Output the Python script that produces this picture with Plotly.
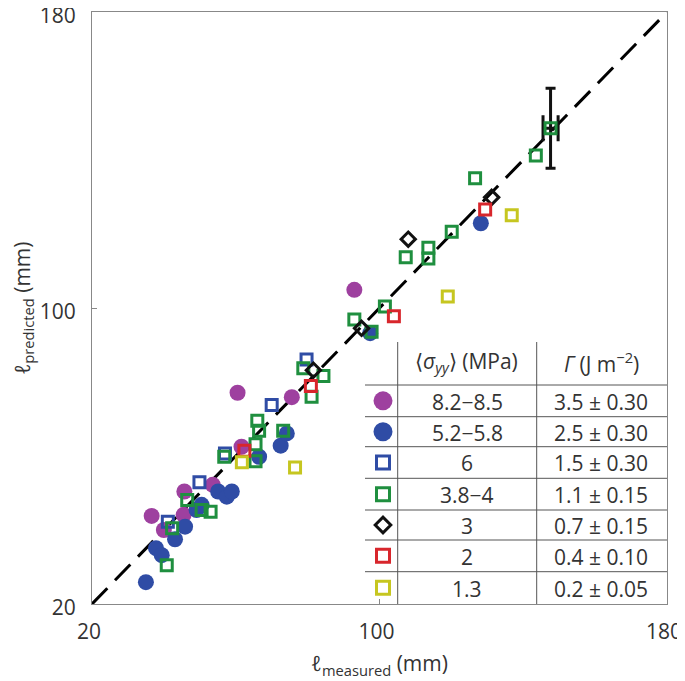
import plotly.graph_objects as go

# ---------------- data ----------------
magenta_x = [36.6, 45.5, 40.0, 45.7, 53.6, 60.5, 61.6, 75.6, 93.0]
magenta_y = [43.8, 44.1, 40.0, 50.4, 52.2, 77.1, 62.5, 75.9, 104.9]

blue_c_x = [35.0, 37.8, 39.4, 43.1, 45.9, 49.1, 50.5, 55.1, 57.5, 58.9, 66.5, 72.5, 74.2, 97.4, 128.2]
blue_c_y = [25.9, 35.1, 33.2, 37.5, 40.9, 45.4, 46.8, 50.4, 49.0, 50.4, 59.8, 62.8, 66.1, 93.2, 122.9]

blue_s_x = [41.1, 49.9, 57.0, 70.0, 79.7]
blue_s_y = [42.2, 52.9, 60.7, 73.8, 86.1]

green_x = [40.8, 42.3, 46.5, 50.5, 53.0, 56.8, 65.5, 65.5, 66.5, 66.0, 73.2, 78.8, 81.1, 84.4,
           93.0, 97.8, 101.5, 107.3, 113.6, 113.6, 120.1, 126.6, 143.5]
green_y = [30.5, 40.5, 48.1, 45.4, 44.9, 59.8, 58.6, 63.2, 66.8, 69.5, 66.8, 83.7, 76.0, 81.6,
           96.9, 93.6, 100.4, 113.7, 116.3, 113.4, 120.6, 135.1, 141.2]

errbar_x = [147.6]
errbar_y = [148.6]
errbar_dx = [2.1]
errbar_dy = [10.8]

black_x = [81.6, 95.0, 108.0, 131.2]
black_y = [83.2, 94.5, 118.6, 129.9]

red_x = [62.4, 80.9, 104.0, 129.4]
red_y = [61.4, 78.9, 97.8, 126.6]

yellow_x = [61.7, 76.5, 119.0, 136.8]
yellow_y = [58.3, 56.9, 103.1, 125.1]

line_x = [20, 180]
line_y = [20, 180]

tick_vals = [20, 100, 180]
tick_text = ["20", "100", "180"]

table_col1 = ["8.2−8.5", "5.2−5.8", "6", "3.8−4", "3", "2", "1.3"]
table_col2 = ["3.5 ± 0.30", "2.5 ± 0.30", "1.5 ± 0.30", "1.1 ± 0.15", "0.7 ± 0.15", "0.4 ± 0.10", "0.2 ± 0.05"]
header_col1 = "⟨<i>σ</i><sub><i>yy</i></sub>⟩ (MPa)"
header_col2 = "<i>Γ</i> (J m<sup>−2</sup>)"

# ---------------- styles ----------------
MAG = "#9E409F"
BLUE = "#2F4CA5"
GREEN = "#1F8F3F"
RED = "#D8262C"
YEL = "#C6C620"
FONT = "Open Sans"
TXT = "#333333"

OFF = 8  # default page body margin
W, H = 685 - OFF, 681 - OFF
# plot area in screen pixels
L, R, T, B = 92, 667, 12, 604


def px(x):
    return (x - L) / (R - L)


def py(y):
    return (B - y) / (B - T)


fig = go.Figure()

fig.add_trace(go.Scatter(x=line_x, y=line_y, mode="lines",
                         line=dict(color="black", width=3, dash="22px,11px"),
                         hoverinfo="skip", showlegend=False, cliponaxis=False))

circle = dict(symbol="circle", size=16, line=dict(width=0))
sq = lambda c, s=11: dict(symbol="square-open", size=s, color=c, line=dict(width=3, color=c))

fig.add_trace(go.Scatter(x=magenta_x, y=magenta_y, mode="markers",
                         marker=dict(color=MAG, **circle), showlegend=False))
fig.add_trace(go.Scatter(x=blue_c_x, y=blue_c_y, mode="markers",
                         marker=dict(color=BLUE, **circle), showlegend=False))
fig.add_trace(go.Scatter(x=blue_s_x, y=blue_s_y, mode="markers",
                         marker=sq(BLUE), showlegend=False))
fig.add_trace(go.Scatter(x=green_x, y=green_y, mode="markers",
                         marker=sq(GREEN), showlegend=False))
fig.add_trace(go.Scatter(x=errbar_x, y=errbar_y, mode="markers",
                         marker=sq(GREEN),
                         error_y=dict(type="data", array=errbar_dy, color="#111", thickness=3, width=5),
                         error_x=dict(type="data", array=errbar_dx, color="#111", thickness=3, width=13),
                         showlegend=False))
fig.add_trace(go.Scatter(x=black_x, y=black_y, mode="markers",
                         marker=dict(symbol="diamond-open", size=11, color="#111",
                                     line=dict(width=3, color="#111")), showlegend=False))
fig.add_trace(go.Scatter(x=red_x, y=red_y, mode="markers",
                         marker=sq(RED), showlegend=False))
fig.add_trace(go.Scatter(x=yellow_x, y=yellow_y, mode="markers",
                         marker=sq(YEL), showlegend=False))

# ---------------- table ----------------
shapes = [dict(type="rect", xref="paper", yref="paper", layer="below",
               x0=px(366), x1=px(R), y0=py(342), y1=py(B),
               fillcolor="white", line=dict(width=0))]
row_lines = [385, 416.7, 446.7, 478.3, 510, 540, 571.7]
for yl in row_lines:
    shapes.append(dict(type="line", xref="paper", yref="paper",
                       x0=px(365), x1=px(R), y0=py(yl), y1=py(yl),
                       line=dict(color="#555", width=1)))
for xl in [397.7, 536.7]:
    shapes.append(dict(type="line", xref="paper", yref="paper",
                       x0=px(xl), x1=px(xl), y0=py(342), y1=py(B),
                       line=dict(color="#555", width=1)))

row_edges = row_lines + [B]
row_centers = [(row_edges[i] + row_edges[i + 1]) / 2 for i in range(7)]

annotations = []
hdr_font = dict(family=FONT, size=21, color=TXT)
cell_font = dict(family=FONT, size=21, color=TXT)
annotations.append(dict(xref="paper", yref="paper", x=px(466), y=py(362), text=header_col1,
                        xanchor="center", yanchor="middle", showarrow=False, font=hdr_font))
annotations.append(dict(xref="paper", yref="paper", x=px(601), y=py(362), text=header_col2,
                        xanchor="center", yanchor="middle", showarrow=False, font=hdr_font))
for i in range(7):
    annotations.append(dict(xref="paper", yref="paper", x=px(467), y=py(row_centers[i] + 1),
                            text=table_col1[i], xanchor="center", yanchor="middle",
                            showarrow=False, font=cell_font))
    annotations.append(dict(xref="paper", yref="paper", x=px(601), y=py(row_centers[i] + 1),
                            text=table_col2[i], xanchor="center", yanchor="middle",
                            showarrow=False, font=cell_font))

# legend symbols on an overlay axis in paper units
leg_x = [px(383)] * 7
leg_y = [py(c) for c in row_centers]
leg_symbols = ["circle", "circle", "square-open", "square-open", "diamond-open", "square-open", "square-open"]
leg_colors = [MAG, BLUE, BLUE, GREEN, "#111", RED, YEL]
leg_sizes = [19, 19, 13, 13, 12, 13, 13]
leg_lw = [0, 0, 3, 3, 3, 3, 3]
for i in range(7):
    fig.add_trace(go.Scatter(x=[leg_x[i]], y=[leg_y[i]], mode="markers", xaxis="x2", yaxis="y2",
                             marker=dict(symbol=leg_symbols[i], size=leg_sizes[i], color=leg_colors[i],
                                         line=dict(width=leg_lw[i], color=leg_colors[i])),
                             showlegend=False, hoverinfo="skip"))

axis_common = dict(range=[20, 180], autorange=False, tickmode="array", tickvals=tick_vals,
                   ticktext=tick_text, ticks="inside", ticklen=5,
                   tickcolor="#888", showline=True, linecolor="#888", linewidth=1,
                   mirror=True, showgrid=False, zeroline=False, automargin=False,
                   ticklabeloverflow="allow",
                   tickfont=dict(family=FONT, size=21, color=TXT))

fig.update_layout(
    width=W, height=H,
    margin=dict(l=L - OFF, r=685 - R, t=T - OFF, b=681 - B, pad=0, autoexpand=False),
    paper_bgcolor="white", plot_bgcolor="white",
    xaxis=dict(**axis_common, ticklabelstandoff=9, ticklabelshift=-3,
               title=dict(text="<i>ℓ</i><sub>measured</sub> (mm)", standoff=12,
                          font=dict(family=FONT, size=21, color=TXT))),
    yaxis=dict(**axis_common, ticklabelstandoff=11, ticklabelshift=4,
               title=dict(text="<i>ℓ</i><sub>predicted</sub> (mm)", standoff=14,
                          font=dict(family=FONT, size=21, color=TXT))),
    xaxis2=dict(overlaying="x", range=[0, 1], autorange=False, visible=False),
    yaxis2=dict(overlaying="y", range=[0, 1], autorange=False, visible=False),
    shapes=shapes,
    annotations=annotations,
)

fig.write_html("out.html")
